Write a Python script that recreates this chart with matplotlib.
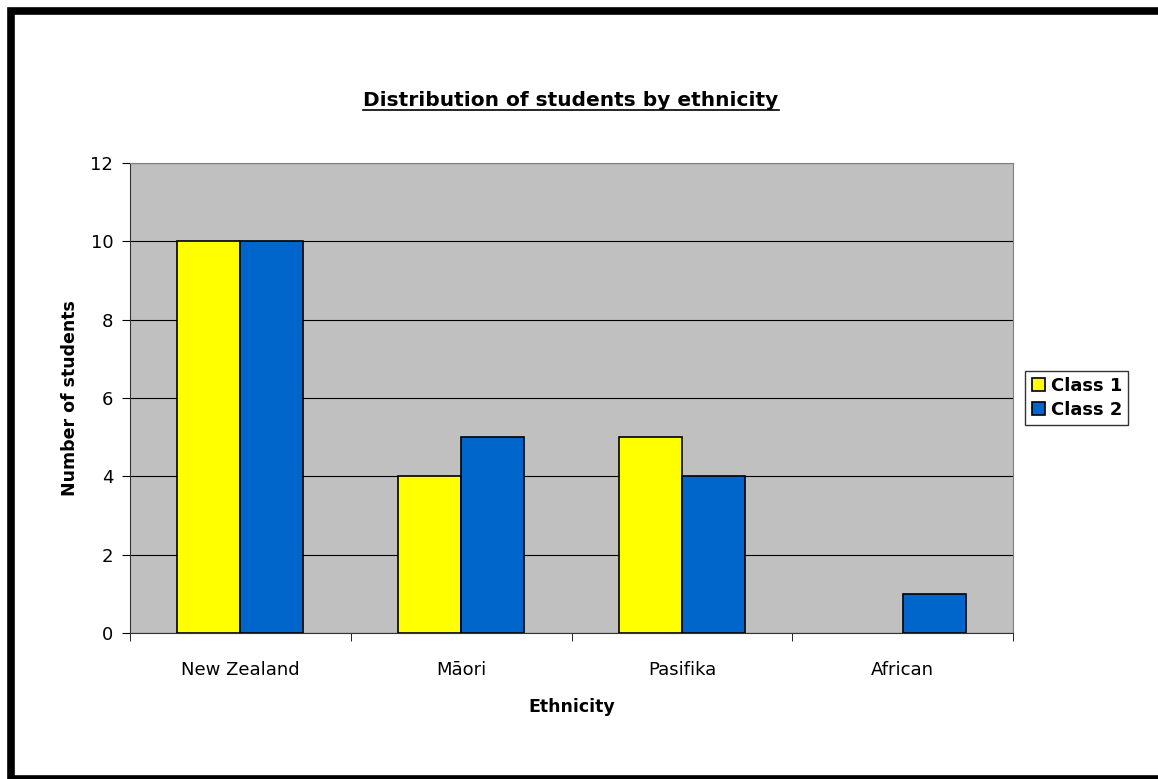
import numpy as np
import matplotlib.pyplot as plt
from matplotlib.patches import Rectangle
from matplotlib.lines import Line2D

# ---- DATA ----
ethnicities = ["New Zealand", "Māori", "Pasifika", "African"]
class_1 = [10, 4, 5, 0]
class_2 = [10, 5, 4, 1]
y_ticks = [0, 2, 4, 6, 8, 10, 12]

plt.rcParams["font.family"] = ["DejaVu Sans"]

W, H = 1158, 779
fig = plt.figure(figsize=(W / 100, H / 100), dpi=100)
ax = fig.add_axes([130 / W, 1 - 633 / H, 883 / W, 470 / H])

# ---- BARS ----
x = np.arange(len(ethnicities))
bar_w = 1 / 3.5
for offset, vals, colour, name in [(-bar_w / 2, class_1, "#FFFF00", "Class 1"),
                                   (bar_w / 2, class_2, "#0066CC", "Class 2")]:
    bars = ax.bar(x + offset, vals, bar_w, color=colour, edgecolor="black",
                  linewidth=1.2, label=name, zorder=3)
    # empty categories get no outline
    for b, v in zip(bars, vals):
        if v == 0:
            b.set_linewidth(0)

ax.set_facecolor("#C0C0C0")
ax.set_xlim(-0.5, len(ethnicities) - 0.5)
ax.set_ylim(0, 12)
ax.set_yticks(y_ticks)
ax.yaxis.grid(True, color="black", linewidth=0.8, zorder=1)
ax.set_axisbelow(True)

# category labels centred, tick marks at the boundaries
ax.set_xticks(x)
ax.set_xticklabels(ethnicities, fontsize=13)
ax.set_xticks(np.arange(len(ethnicities) + 1) - 0.5, minor=True)
ax.tick_params(axis="x", which="major", length=0, pad=20)
ax.tick_params(axis="x", which="minor", length=6, direction="out", color="black")
ax.tick_params(axis="y", length=6, direction="out", labelsize=13, pad=6)

for side in ["left", "bottom"]:
    ax.spines[side].set_color("#333333")
for side in ["top", "right"]:
    ax.spines[side].set_color("#808080")

ax.set_xlabel("Ethnicity", fontsize=12.5, fontweight="bold", labelpad=14)
ax.set_ylabel("Number of students", fontsize=12.5, fontweight="bold", labelpad=8)

leg = ax.legend(loc="center left", bbox_to_anchor=(1.014, 0.5),
                prop={"weight": "bold", "size": 13}, frameon=True, fancybox=False,
                edgecolor="black", handlelength=0.75, handleheight=0.75,
                handletextpad=0.3, borderpad=0.35, labelspacing=0.35,
                borderaxespad=0)
leg.get_frame().set_linewidth(1.0)

# ---- TITLE (underlined) ----
title = fig.text(571 / W, 1 - 101 / H, "Distribution of students by ethnicity",
                 fontsize=14.5, fontweight="bold", ha="center", va="center")
fig.canvas.draw()
bb = title.get_window_extent()
fig.add_artist(Line2D([bb.x0 / W, bb.x1 / W], [(bb.y0 + 1) / H, (bb.y0 + 1) / H],
                      color="black", linewidth=1.2))

# ---- OUTER BORDER ----
fig.add_artist(Rectangle((11 / W, 0), 1.2, 1 - 11 / H, transform=fig.transFigure,
                         fill=False, edgecolor="black", linewidth=5.5))

fig.savefig("out.png", dpi=100)
plt.close(fig)
